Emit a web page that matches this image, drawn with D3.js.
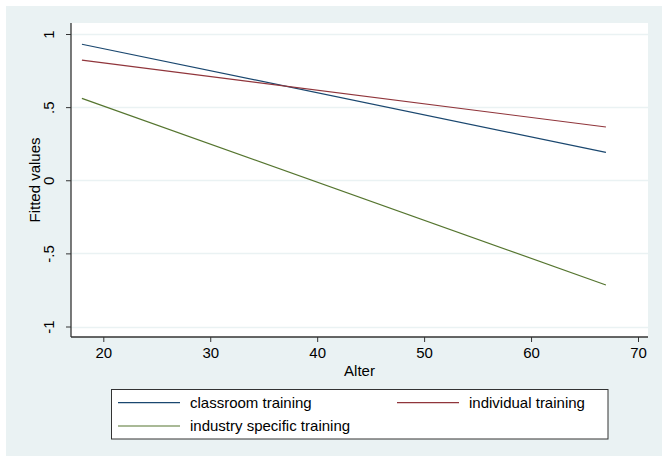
<!DOCTYPE html>
<html>
<head>
<meta charset="utf-8">
<script src="https://cdn.jsdelivr.net/npm/d3@7"></script>
<style>
  body { margin: 0; background: #fff; }
  svg { display: block; font-family: "Liberation Sans", Arial, sans-serif; }
</style>
</head>
<body>
<div id="chart-area"></div>
<script>
const chartWidth = 662
const chartHeight = 456

// fitted values at the two ends of the age range
const ages = [18, 67]
const classroomTraining = [0.93, 0.191]
const individualTraining = [0.822, 0.364]
const industryTraining = [0.56, -0.716]

const seriesNames = ["classroom training", "individual training", "industry specific training"]
const seriesColors = ["#1a476f", "#90353b", "#55752f"]

const xTicks = [20, 30, 40, 50, 60, 70]
const yTicks = [-1, -0.5, 0, 0.5, 1]
const yTickLabels = ["-1", "-.5", "0", ".5", "1"]

const plot = {left: 71, right: 648, top: 23, bottom: 337}

const svg = d3.select("#chart-area").append("svg")
    .attr("width", chartWidth)
    .attr("height", chartHeight)

// graph region
svg.append("rect")
    .attr("x", 6).attr("y", 6)
    .attr("width", chartWidth - 6).attr("height", chartHeight - 6)
    .attr("fill", "#eaf2f3")

// plot region
svg.append("rect")
    .attr("x", plot.left).attr("y", plot.top)
    .attr("width", plot.right - plot.left).attr("height", plot.bottom - plot.top)
    .attr("fill", "#ffffff")

const x = d3.scaleLinear().domain([20, 70]).range([103.3, 638])
const y = d3.scaleLinear().domain([-1, 1]).range([326.5, 34])

// gridlines
svg.append("g")
    .selectAll("line")
    .data(yTicks)
    .join("line")
    .attr("x1", plot.left).attr("x2", plot.right)
    .attr("y1", d => Math.round(y(d)) + 0.5)
    .attr("y2", d => Math.round(y(d)) + 0.5)
    .attr("stroke", "#eaf2f3")
    .attr("stroke-width", 1.5)

// x axis
const xAxis = svg.append("g")
    .attr("transform", `translate(0, ${plot.bottom})`)
    .call(d3.axisBottom(x).tickValues(xTicks).tickSize(5).tickSizeOuter(0).tickPadding(5))
xAxis.select(".domain").remove()
xAxis.append("line")
    .attr("x1", plot.left).attr("x2", plot.right)
    .attr("stroke", "#333").attr("stroke-width", 1.3)
xAxis.selectAll(".tick line").attr("stroke", "#333")
xAxis.selectAll(".tick text")
    .attr("font-size", "15px")
    .attr("font-family", "Liberation Sans, Arial, sans-serif")
    .attr("fill", "#000")

// y axis
const yAxis = svg.append("g")
    .attr("transform", `translate(${plot.left}, 0)`)
    .call(d3.axisLeft(y).tickValues(yTicks).tickSize(5).tickSizeOuter(0).tickFormat((d, i) => yTickLabels[i]))
yAxis.select(".domain").remove()
yAxis.append("line")
    .attr("y1", plot.top).attr("y2", plot.bottom)
    .attr("stroke", "#333").attr("stroke-width", 1.3)
yAxis.selectAll(".tick line").attr("stroke", "#333")
yAxis.selectAll(".tick text")
    .attr("x", null).attr("dy", "0.35em")
    .attr("text-anchor", "middle")
    .attr("transform", "translate(-22, 0) rotate(-90)")
    .attr("font-size", "15px")
    .attr("font-family", "Liberation Sans, Arial, sans-serif")
    .attr("fill", "#000")

// axis titles
svg.append("text")
    .attr("x", (plot.left + plot.right) / 2)
    .attr("y", 376)
    .attr("text-anchor", "middle")
    .attr("font-size", "15px")
    .text("Alter")

svg.append("text")
    .attr("transform", `translate(35, ${(plot.top + plot.bottom) / 2}) rotate(-90)`)
    .attr("text-anchor", "middle")
    .attr("dy", "0.35em")
    .attr("font-size", "15px")
    .text("Fitted values")

// fitted lines
const allSeries = [classroomTraining, individualTraining, industryTraining]
const line = d3.line()
    .x((d, i) => x(ages[i]))
    .y(d => y(d))

svg.append("g")
    .selectAll("path")
    .data(allSeries)
    .join("path")
    .attr("d", d => line(d))
    .attr("fill", "none")
    .attr("stroke", (d, i) => seriesColors[i])
    .attr("stroke-width", 1.2)

// legend
const legend = svg.append("g")
legend.append("rect")
    .attr("x", 111.5).attr("y", 389.5)
    .attr("width", 496.5).attr("height", 49.5)
    .attr("fill", "#fff")
    .attr("stroke", "#333")
    .attr("stroke-width", 1)

const legendPos = [
    {x: 118, y: 402.7},
    {x: 397, y: 402.7},
    {x: 118, y: 426}
]

const items = legend.selectAll("g.item")
    .data(seriesNames)
    .join("g")
    .attr("class", "item")
    .attr("transform", (d, i) => `translate(${legendPos[i].x}, ${legendPos[i].y})`)

items.append("line")
    .attr("x1", 0).attr("x2", 62)
    .attr("stroke", (d, i) => seriesColors[i])
    .attr("stroke-width", 1.2)

items.append("text")
    .attr("x", 72)
    .attr("dy", "0.35em")
    .attr("font-size", "15px")
    .text(d => d)
</script>
</body>
</html>
